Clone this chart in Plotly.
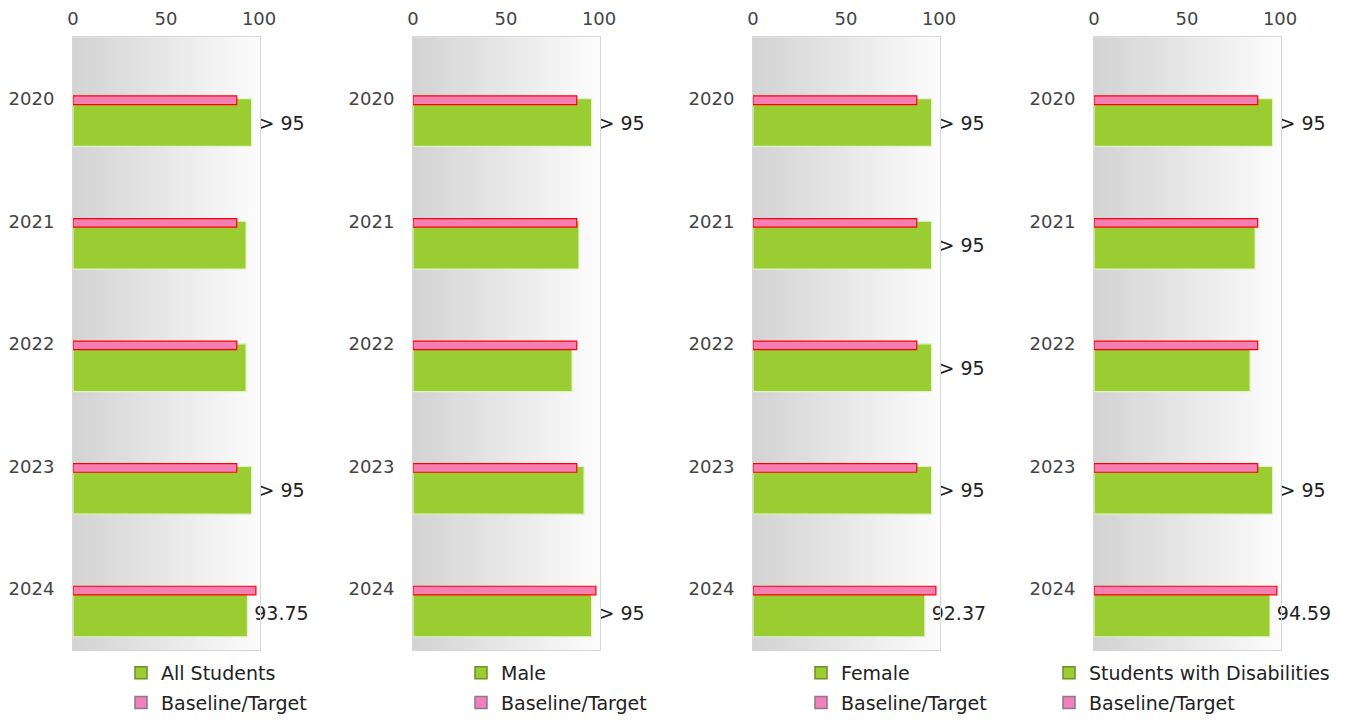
import plotly.graph_objects as go

years = ["2020", "2021", "2022", "2023", "2024"]
groups = ["All Students", "Male", "Female", "Students with Disabilities"]

values_all = [96, 93, 93, 96, 93.75]
values_male = [96, 89.2, 85.5, 91.9, 96]
values_female = [96, 96, 96, 96, 92.37]
values_swd = [96, 86.6, 83.9, 96, 94.59]

labels_all = ["> 95", "", "", "> 95", "93.75"]
labels_male = ["> 95", "", "", "", "> 95"]
labels_female = ["> 95", "> 95", "> 95", "> 95", "92.37"]
labels_swd = ["> 95", "", "", "> 95", "94.59"]

targets_all = [88, 88, 88, 88, 98.3]
targets_male = [88, 88, 88, 88, 98.3]
targets_female = [88, 88, 88, 88, 98.3]
targets_swd = [88, 88, 88, 88, 98.3]

series = [
    (values_all, labels_all, targets_all),
    (values_male, labels_male, targets_male),
    (values_female, labels_female, targets_female),
    (values_swd, labels_swd, targets_swd),
]

OFF = 8  # page body margin
W, H = 1352 - OFF, 722 - OFF
FONT = "DejaVu Sans"
GREEN = "#9acd32"
PINK = "#f47fb2"

panel_left = [73, 413, 753, 1094]
panel_w = 187
top_px, bot_px = 38, 664
legend_top_px = 668
legend_marker_x = [143, 483, 823, 1071]

pos = list(range(len(years)))

fig = go.Figure()
shapes = []
layout_axes = {}

for i, (vals, labs, tgts) in enumerate(series):
    n = "" if i == 0 else str(i + 1)
    xa, ya = "x" + n, "y" + n
    leg = "legend" if i == 0 else "legend" + str(i + 1)
    fig.add_trace(go.Bar(
        x=vals, y=pos, orientation="h", xaxis=xa, yaxis=ya,
        marker=dict(color=GREEN, line=dict(color="#e4f2c8", width=1.2)),
        width=0.39, offset=0.0,
        text=["\u2009" + t if t else "" for t in labs],
        textposition="outside", cliponaxis=False, constraintext="none",
        textfont=dict(family=FONT, size=19, color="#222"),
        showlegend=False, hoverinfo="skip",
    ))
    fig.add_trace(go.Bar(
        x=tgts, y=pos, orientation="h", xaxis=xa, yaxis=ya,
        marker=dict(color=PINK, line=dict(color="#ff0000", width=1.2)),
        width=0.07, offset=-0.022,
        showlegend=False, hoverinfo="skip",
    ))
    fig.add_trace(go.Bar(
        x=[None], y=[None], orientation="h", xaxis=xa, yaxis=ya,
        name=groups[i], legend=leg, legendgroup=f"g{i}a",
        marker=dict(color=GREEN, line=dict(color="#6f8f2a", width=1.5)),
    ))
    fig.add_trace(go.Bar(
        x=[None], y=[None], orientation="h", xaxis=xa, yaxis=ya,
        name="Baseline/Target", legend=leg, legendgroup=f"g{i}b",
        marker=dict(color="#f280bd", line=dict(color="#8a7a85", width=1.5)),
    ))

    x0 = (panel_left[i] - OFF) / W
    x1 = (panel_left[i] + panel_w - OFF) / W
    layout_axes["xaxis" + n] = dict(
        domain=[x0, x1], range=[0, 100.5], side="top", anchor=ya,
        tickvals=[0, 50, 100], showgrid=False, zeroline=False,
        showline=True, mirror=True, linecolor="#d6d6d6", linewidth=1,
        ticks="", tickfont=dict(family=FONT, size=18, color="#444"),
        fixedrange=True, automargin=False, ticklabelstandoff=4,
    )
    layout_axes["yaxis" + n] = dict(
        domain=[1 - (bot_px - OFF) / H, 1 - (top_px - OFF) / H], range=[4.5, -0.5],
        anchor=xa, tickvals=pos, ticktext=years, showgrid=False,
        zeroline=False, showline=True, mirror=True, linecolor="#d6d6d6",
        linewidth=1, ticks="", tickfont=dict(family=FONT, size=18, color="#444"),
        fixedrange=True, automargin=False, ticklabelstandoff=14,
    )
    layout_axes[leg] = dict(
        x=(legend_marker_x[i] - 22 - OFF) / W, xanchor="left",
        y=1 - (legend_top_px - OFF) / H, yanchor="top",
        font=dict(family=FONT, size=19, color="#222"),
        bgcolor="rgba(0,0,0,0)", tracegroupgap=2, itemclick=False,
        orientation="v",
    )
    N = 48
    for k in range(N):
        t = k / (N - 1)
        c = int(round(211 + (252 - 211) * t))
        shapes.append(dict(
            type="rect", xref=xa + " domain", yref=ya + " domain",
            x0=k / N, x1=(k + 1) / N + 0.004, y0=0, y1=1,
            fillcolor=f"rgb({c},{c},{c})", line=dict(width=0), layer="below",
        ))

fig.update_layout(
    width=W, height=H, margin=dict(l=0, r=0, t=0, b=0),
    paper_bgcolor="white", plot_bgcolor="rgba(0,0,0,0)",
    barmode="overlay", shapes=shapes,
    font=dict(family=FONT, size=18, color="#444"),
    **layout_axes,
)

fig.write_html("out.html")
